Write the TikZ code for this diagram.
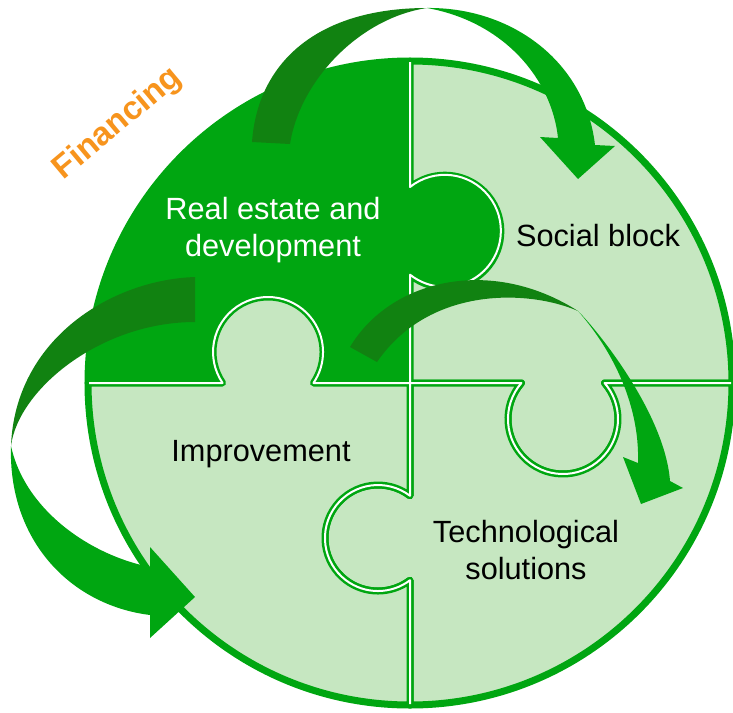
\documentclass[tikz,border=0pt]{standalone}
\usepackage{fontspec}
\setmainfont{Liberation Sans}

\definecolor{leafgreen}{HTML}{00A611}
\definecolor{mossgreen}{HTML}{118211}
\definecolor{palegreen}{HTML}{C6E7C1}
\definecolor{fundorange}{HTML}{F7941D}

\begin{document}
\begin{tikzpicture}[
  x=1pt,
  y=-1pt,
  piece/.style={fill=palegreen, draw=leafgreen, line width=7pt, line join=round},
  seam/.style={draw=white, line width=2pt, line join=round},
  ribbon/.style={fill=leafgreen},
  ribbonback/.style={fill=mossgreen},
  piecetext/.style={font=\fontsize{30.7}{37}\selectfont, align=center},
]
\useasboundingbox (0,0) rectangle (733,712);
\path[piece, fill=leafgreen] (410,61) -- (410,187) arc[start angle=-128.5, end angle=128.5, radius=56]
  -- (410,383) -- (313.4,383) arc[start angle=34.3, end angle=-214.3, radius=55]
  -- (88,383) arc[start angle=180, end angle=270, radius=322] -- cycle;
\path[piece] (410,61) arc[start angle=270, end angle=360, radius=322]
  -- (604.6,383) arc[start angle=-40.9, end angle=220.9, radius=55]
  -- (410,383) -- (410,275) arc[start angle=128.5, end angle=-128.5, radius=56] -- cycle;
\path[piece] (410,383) -- (521.4,383) arc[start angle=220.9, end angle=-40.9, radius=55]
  -- (732,383) arc[start angle=0, end angle=90, radius=322]
  -- (410,580.2) arc[start angle=52.8, end angle=307.2, radius=53] -- cycle;
\path[piece] (88,383) -- (222.6,383) arc[start angle=145.7, end angle=394.3, radius=55]
  -- (410,383) -- (410,495.8) arc[start angle=307.2, end angle=52.8, radius=53]
  -- (410,705) arc[start angle=90, end angle=180, radius=322] -- cycle;
\draw[seam] (410,62) -- (410,187) arc[start angle=-128.5, end angle=128.5, radius=56]
  -- (410,495.8) arc[start angle=307.2, end angle=52.8, radius=53] -- (410,704);
\draw[seam] (89,383) -- (222.6,383) arc[start angle=145.7, end angle=394.3, radius=55]
  -- (521.4,383) arc[start angle=220.9, end angle=-40.9, radius=55] -- (731,383);

\fill[ribbonback] (252,142) .. controls (258,60) and (320,8) .. (427,8)
  .. controls (360,18) and (300,80) .. (290,144) -- cycle;
\fill[ribbon] (427,8) .. controls (510,7) and (585,60) .. (595,145) -- (615,146) -- (578,179)
  -- (540,137) -- (558,138) .. controls (552,80) and (505,22) .. (427,8) -- cycle;
\fill[ribbonback] (195,277) .. controls (110,280) and (15,340) .. (11,446)
  .. controls (18,390) and (100,322) .. (195,322) -- cycle;
\fill[ribbon] (11,446) .. controls (8,540) and (70,605) .. (150,615) -- (150,638) -- (195,597)
  -- (150,547) -- (150,567) .. controls (90,555) and (25,510) .. (11,446) -- cycle;
\fill[ribbonback] (350,347) .. controls (390,280) and (490,255) .. (578,311)
  .. controls (530,290) and (430,285) .. (377,362) -- cycle;
\fill[ribbon] (578,311) .. controls (600,333) and (665,415) .. (670,481) -- (683,488) -- (641,504)
  -- (623,457) -- (638,463) .. controls (640,400) and (608,345) .. (578,311) -- cycle;

\node[piecetext, text=white] (realestate) at (273,230) {Real estate and\\development};
\node[piecetext] (social) at (598,236) {Social block};
\node[piecetext] (improvement) at (261,454) {Improvement};
\node[piecetext] (techsolutions) at (526,550) {Technological\\solutions};
\node[font=\bfseries\fontsize{33}{40}\selectfont, text=fundorange, rotate=40] (financing) at (118,124) {Financing};
\end{tikzpicture}
\end{document}
